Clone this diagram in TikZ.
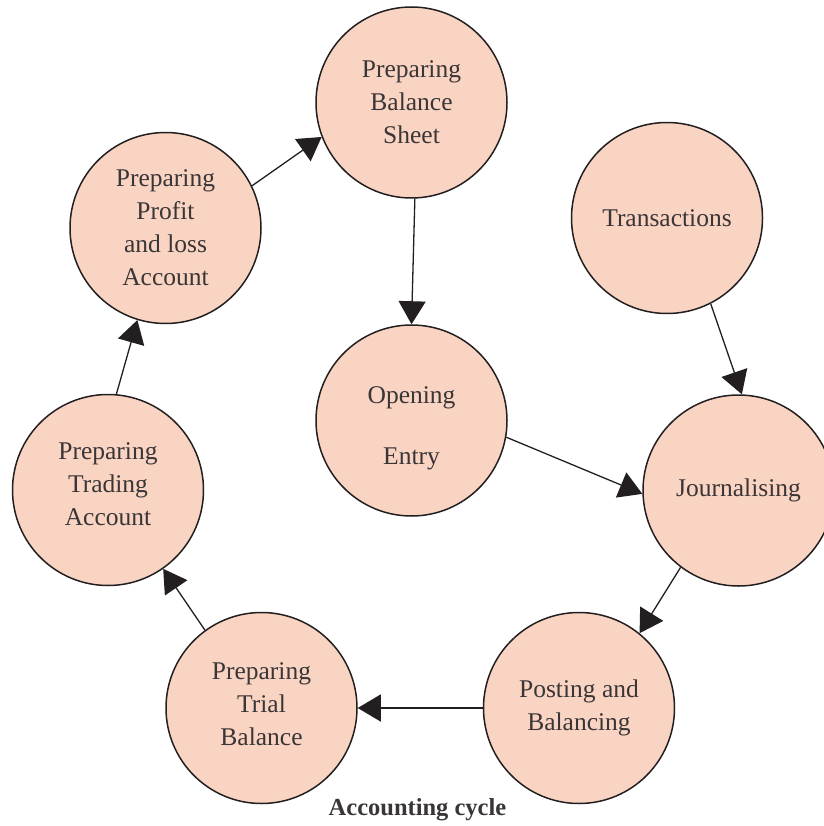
\documentclass[tikz,border=0pt]{standalone}
\usepackage{fontspec}
\setmainfont{Liberation Serif}
\usepackage{xcolor}
\usepackage{tikz}
\usetikzlibrary{arrows.meta, positioning}
\definecolor{cyclefill}{HTML}{F9D4C3}
\definecolor{cycleline}{HTML}{231F20}
\definecolor{cycletext}{HTML}{3A3536}

\begin{document}
\begin{tikzpicture}[
    x=1pt, y=-1pt,
    stage/.style={circle, draw=cycleline, line width=1.5pt, fill=cyclefill, minimum size=191pt, inner sep=0pt, align=center, text=cycletext, font=\fontsize{25.5}{33}\selectfont},
    flow/.style={draw=cycleline, line width=1.3pt, -{Triangle[length=23pt, width=27pt]}},
]
\useasboundingbox (0,0) rectangle (823,826);

% Stages
\node[stage] (sheet) at (411.5,102.5) {Preparing\\Balance\\Sheet};
\node[stage] (trans) at (667,218) {Transactions};
\node[stage] (pl) at (165.5,228) {Preparing\\Profit\\and loss\\Account};
\node[stage] (open) at (411.5,420.5) {\rule{0pt}{32pt}Opening\\[28pt]Entry};
\node[stage] (journal) at (738.5,490.5) {Journalising};
\node[stage] (trading) at (108,490) {Preparing\\Trading\\Account\rule[-12pt]{0pt}{12pt}};
\node[stage] (trial) at (261.5,708) {Preparing\\Trial\\Balance\rule[-8pt]{0pt}{8pt}};
\node[stage] (post) at (579,708) {Posting and\\Balancing};

% Arrows
\draw[flow] (trans.-63) -- (journal.88);
\draw[flow] (open.-10) -- (journal.182);
\draw[flow] (journal.-127) -- (post.51);
\draw[flow] (post.180) -- (trial.0);
\draw[flow] (trial.126) -- (trading.-55);
\draw[flow] (trading.85) -- (pl.-107);
\draw[flow] (pl.26) -- (sheet.201);
\draw[flow] (sheet.-88) -- (open.90);

% Caption
\node[font=\fontsize{24.5}{28}\selectfont\bfseries, text=cycletext] (caption) at (417.5,810) {Accounting cycle};

\end{tikzpicture}
\end{document}
